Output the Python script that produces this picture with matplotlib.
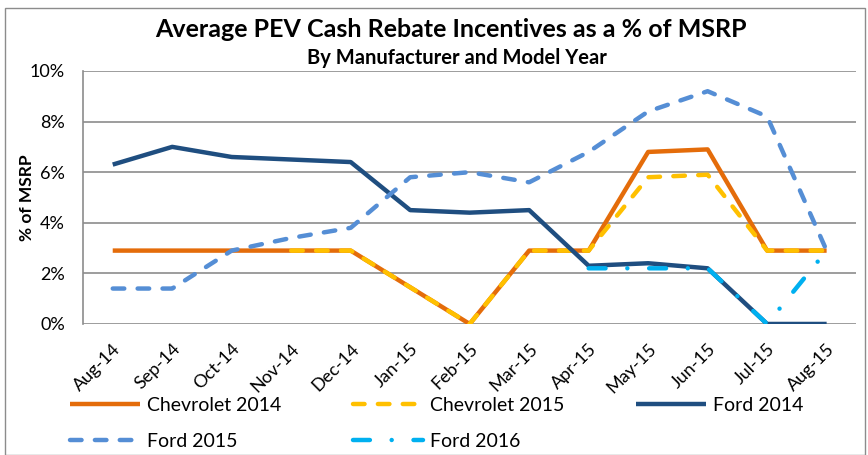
import numpy as np
import matplotlib.pyplot as plt
from matplotlib.patches import Rectangle

plt.rcParams['font.family'] = ['Lato', 'DejaVu Sans']

months = ["Aug-14", "Sep-14", "Oct-14", "Nov-14", "Dec-14", "Jan-15", "Feb-15",
          "Mar-15", "Apr-15", "May-15", "Jun-15", "Jul-15", "Aug-15"]
nan = np.nan
chevy_2014 = [2.9, 2.9, 2.9, 2.9, 2.9, 1.45, 0.0, 2.9, 2.9, 6.8, 6.9, 2.9, 2.9]
chevy_2015 = [nan, nan, nan, 2.9, 2.9, 1.45, 0.0, 2.9, 2.9, 5.8, 5.9, 2.9, 2.9]
ford_2014 = [6.3, 7.0, 6.6, 6.5, 6.4, 4.5, 4.4, 4.5, 2.3, 2.4, 2.2, 0.0, 0.0]
ford_2015 = [1.4, 1.4, 2.9, 3.4, 3.8, 5.8, 6.0, 5.6, 6.8, 8.4, 9.2, 8.2, 2.9]
ford_2016 = [nan, nan, nan, nan, nan, nan, nan, nan, 2.2, 2.2, 2.2, 0.0, 2.9]

fig = plt.figure(figsize=(8.68, 4.55), dpi=100)
ax = fig.add_axes([0.0956, 0.288, 0.891, 0.556])
x = np.arange(len(months))
lw = 3.2

l1, = ax.plot(x, chevy_2014, color="#E46C0A", lw=lw, label="Chevrolet 2014",
              solid_capstyle="butt")
l2, = ax.plot(x, chevy_2015, color="#FFC000", lw=lw, label="Chevrolet 2015",
              dashes=(2.6, 3.0), dash_capstyle="round")
l3, = ax.plot(x, ford_2014, color="#1F4E80", lw=lw, label="Ford 2014",
              solid_capstyle="butt")
l4, = ax.plot(x, ford_2015, color="#558ED5", lw=lw, label="Ford 2015",
              dashes=(2.6, 3.0), dash_capstyle="round")
l5, = ax.plot(x, ford_2016, color="#00B0F0", lw=lw, label="Ford 2016",
              dashes=(3.8, 4.9, 0.01, 4.9), dash_capstyle="round")

ax.set_xlim(-0.5, len(months) - 0.5)
ax.set_ylim(0, 10)
ax.set_yticks(np.arange(0, 11, 2))
ax.set_yticklabels([f"{v}%" for v in range(0, 11, 2)], fontsize=13)
ax.set_xticks(x)
ax.set_xticklabels(months, rotation=45, ha="right", rotation_mode="anchor",
                   fontsize=13)
ax.tick_params(axis="y", length=0, pad=13)
ax.tick_params(axis="x", length=0, pad=12)
ax.yaxis.grid(True, color="#8C8C8C", lw=1.2)
ax.set_axisbelow(True)
for s in ["top", "right", "bottom"]:
    ax.spines[s].set_visible(False)
ax.spines["left"].set_color("#8C8C8C")
ax.spines["left"].set_linewidth(1.2)
ax.set_ylabel("% of MSRP", fontsize=12.5, fontweight="bold", va="center")
ax.yaxis.set_label_coords(-0.072, 0.5)

fig.text(0.52, 0.935, "Average PEV Cash Rebate Incentives as a % of MSRP",
         ha="center", va="center", fontsize=18, fontweight="bold")
fig.text(0.527, 0.872, "By Manufacturer and Model Year",
         ha="center", va="center", fontsize=14.5, fontweight="bold")

# legend fills column-wise, so order handles to read row by row
fig.legend([l1, l4, l2, l5, l3],
           ["Chevrolet 2014", "Ford 2015", "Chevrolet 2015", "Ford 2016", "Ford 2014"],
           loc="lower left", bbox_to_anchor=(0.0806, 0.0117), ncol=3, frameon=False,
           fontsize=14, handlelength=3.6, columnspacing=3.7, handletextpad=0.35,
           labelspacing=0.95, borderpad=0, borderaxespad=0)

fig.patches.append(Rectangle((0.006, 0.0), 0.99, 0.983, transform=fig.transFigure,
                             fill=False, edgecolor="#8C8C8C", lw=1))

fig.savefig("out.png", dpi=100)
